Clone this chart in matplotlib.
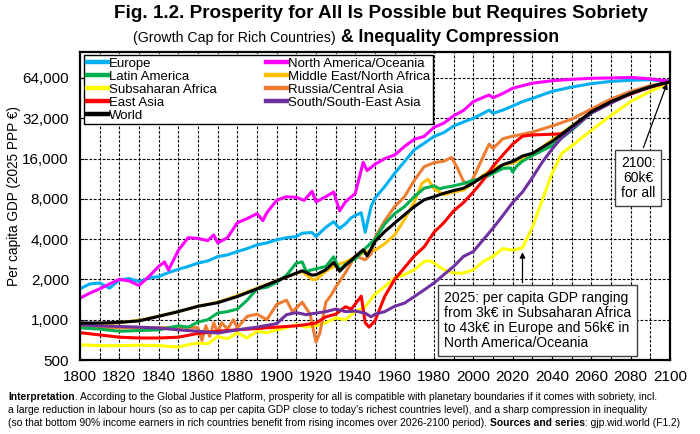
import matplotlib
matplotlib.use('Agg')
import matplotlib.pyplot as plt
from matplotlib.ticker import FixedLocator, MultipleLocator, FuncFormatter

plt.rcParams['font.family'] = ['Liberation Sans', 'DejaVu Sans']

# per capita GDP (2025 PPP EUR)
europe_years = [1800, 1805, 1810, 1815, 1820, 1825, 1830, 1835, 1840, 1845, 1850, 1855, 1860, 1865, 1870,
                1875, 1880, 1885, 1890, 1895, 1900, 1905, 1910, 1913, 1918, 1920, 1925, 1929, 1932, 1935,
                1938, 1943, 1945, 1948, 1950, 1955, 1960, 1965, 1970, 1975, 1980, 1985, 1990, 1995, 2000,
                2005, 2008, 2010, 2015, 2020, 2025, 2030, 2040, 2050, 2060, 2070, 2080, 2090, 2100]
europe = [1700, 1850, 1880, 1720, 1980, 2030, 1930, 2050, 2100, 2250, 2380, 2500, 2650, 2750, 2960,
          3050, 3230, 3400, 3620, 3750, 3950, 4100, 4180, 4430, 4480, 4180, 4900, 5400, 4800, 5200,
          5800, 6300, 4500, 7000, 8100, 9900, 12400, 15200, 18600, 20800, 23400, 25000, 28000, 30000, 32000,
          34800, 36800, 34800, 36800, 39500, 42600, 45000, 50800, 54700, 58000, 60300, 61500, 62000, 60500]

na_years = [1800, 1805, 1810, 1815, 1820, 1825, 1830, 1835, 1840, 1843, 1845, 1850, 1855, 1860, 1865,
            1868, 1870, 1875, 1880, 1885, 1890, 1893, 1895, 1900, 1905, 1910, 1914, 1918, 1920, 1925,
            1929, 1932, 1935, 1940, 1944, 1946, 1950, 1955, 1960, 1965, 1970, 1975, 1980, 1985, 1990,
            1995, 2000, 2005, 2008, 2010, 2015, 2020, 2025, 2030, 2040, 2050, 2060, 2070, 2080, 2090, 2100]
north_america = [1450, 1580, 1700, 1850, 2000, 1950, 1800, 2100, 2500, 2700, 2350, 3300, 4100, 4050, 3900,
                 4300, 3750, 4100, 5300, 5700, 6200, 5500, 6300, 7800, 8300, 8200, 7800, 9100, 7600, 8300,
                 9000, 6500, 7600, 8800, 15000, 13000, 14500, 16000, 17000, 19700, 22300, 23400, 27400, 29400, 33400,
                 36600, 42600, 45800, 47700, 45500, 49000, 53600, 56000, 58500, 61000, 62500, 63600, 64000, 64500, 63000, 60500]

latam_years = [1800, 1810, 1820, 1830, 1840, 1850, 1855, 1860, 1865, 1870, 1875, 1880, 1885, 1890, 1895,
               1900, 1905, 1910, 1913, 1915, 1920, 1925, 1929, 1932, 1935, 1940, 1945, 1950, 1955, 1960,
               1965, 1970, 1975, 1980, 1983, 1985, 1990, 1995, 2000, 2005, 2010, 2015, 2019, 2020, 2022,
               2025, 2030, 2040, 2050, 2060, 2070, 2080, 2090, 2100]
latin_america = [870, 850, 820, 830, 840, 900, 880, 960, 1000, 1120, 1150, 1200, 1400, 1700, 1750,
                 1900, 2150, 2650, 2700, 2300, 2400, 2500, 2950, 2350, 2600, 2850, 3400, 4000, 5200, 6200,
                 7000, 8300, 9600, 10000, 9500, 9700, 10000, 10400, 11000, 11400, 12400, 13500, 13600, 12700, 14000,
                 15300, 16800, 20000, 26000, 35000, 42000, 49000, 55000, 60000]

mena_years = [1800, 1820, 1830, 1840, 1850, 1860, 1870, 1880, 1890, 1900, 1910, 1913, 1918, 1920, 1925,
              1930, 1935, 1940, 1945, 1950, 1955, 1960, 1965, 1970, 1974, 1977, 1980, 1985, 1990, 1995,
              2000, 2005, 2010, 2015, 2020, 2025, 2030, 2040, 2050, 2060, 2070, 2080, 2090, 2100]
mena = [900, 950, 990, 1060, 1150, 1260, 1350, 1510, 1720, 1960, 2220, 2280, 2000, 2000, 2300,
        2550, 2700, 2950, 3200, 3300, 3700, 4300, 5600, 7600, 10500, 11200, 9500, 8600, 9000, 9300,
        10500, 12000, 13500, 14300, 14800, 15800, 17200, 22000, 28000, 35500, 42500, 49000, 55000, 60000]

ssa_years = [1800, 1810, 1820, 1830, 1840, 1850, 1855, 1860, 1865, 1870, 1875, 1880, 1885, 1890, 1895,
             1900, 1905, 1910, 1915, 1920, 1925, 1930, 1935, 1940, 1945, 1950, 1955, 1960, 1965, 1970,
             1975, 1978, 1980, 1985, 1990, 1995, 2000, 2005, 2010, 2015, 2020, 2025, 2030, 2035, 2040,
             2045, 2050, 2060, 2070, 2080, 2090, 2100]
subsaharan = [650, 640, 640, 645, 640, 625, 650, 670, 660, 750, 720, 800, 730, 820, 800,
              840, 870, 920, 880, 900, 950, 1030, 1000, 1150, 1250, 1550, 1770, 2050, 2170, 2360,
              2720, 2750, 2650, 2360, 2230, 2230, 2360, 2720, 2970, 3400, 3300, 3450, 4900, 7800, 12400,
              17500, 19900, 26000, 33600, 42600, 50800, 59000]

russia_years = [1800, 1820, 1840, 1855, 1860, 1862, 1864, 1866, 1868, 1870, 1872, 1875, 1878, 1880, 1885,
                1890, 1895, 1900, 1905, 1908, 1913, 1917, 1920, 1922, 1925, 1928, 1930, 1935, 1940, 1945,
                1948, 1950, 1955, 1960, 1965, 1970, 1975, 1980, 1985, 1989, 1992, 1995, 1998, 2000, 2005,
                2008, 2010, 2015, 2020, 2025, 2030, 2040, 2050, 2060, 2070, 2080, 2090, 2100]
russia = [880, 870, 870, 880, 870, 700, 900, 750, 950, 800, 950, 850, 1000, 870, 1060,
          1100, 1000, 1300, 1400, 1150, 1350, 1100, 680, 800, 1350, 1550, 1750, 2250, 3000, 2800,
          3100, 4100, 5500, 7000, 8300, 11000, 13900, 14900, 15300, 16300, 13500, 10800, 10200, 11500, 16500,
          20500, 19000, 22500, 23500, 24300, 25200, 28000, 31500, 37500, 44500, 50800, 56000, 60000]

east_years = [1800, 1810, 1820, 1830, 1840, 1850, 1860, 1870, 1880, 1890, 1900, 1910, 1915, 1920, 1925,
              1930, 1935, 1938, 1943, 1945, 1947, 1950, 1955, 1960, 1965, 1970, 1975, 1980, 1985, 1990,
              1995, 2000, 2005, 2010, 2015, 2020, 2025, 2030, 2040, 2045, 2050, 2060, 2070, 2080, 2090, 2100]
east_asia = [800, 770, 740, 730, 730, 740, 790, 820, 840, 860, 880, 900, 920, 945, 1050,
             1100, 1250, 1200, 1500, 950, 880, 980, 1500, 2000, 2450, 3000, 3500, 4500, 5300, 6500,
             7500, 9000, 11000, 14000, 17000, 20500, 23500, 24000, 24300, 24500, 27000, 35500, 42000, 48500, 54500, 60000]

south_years = [1800, 1810, 1820, 1830, 1840, 1850, 1860, 1870, 1880, 1890, 1900, 1905, 1910, 1915, 1920,
               1925, 1930, 1935, 1940, 1945, 1948, 1950, 1955, 1960, 1965, 1970, 1975, 1980, 1985, 1990,
               1995, 2000, 2005, 2010, 2015, 2020, 2025, 2030, 2035, 2040, 2045, 2050, 2060, 2070, 2080, 2090, 2100]
south_asia = [920, 900, 890, 880, 866, 840, 820, 795, 840, 880, 935, 1090, 1130, 1090, 1120,
              1150, 1200, 1150, 1160, 1120, 1050, 1100, 1150, 1260, 1330, 1490, 1670, 1880, 2170, 2500,
              2970, 3230, 3950, 4830, 6000, 7500, 9000, 11500, 15000, 18800, 23000, 26500, 35000, 41500, 49000, 55000, 60000]

world_years = [1800, 1810, 1820, 1830, 1840, 1850, 1860, 1870, 1880, 1890, 1900, 1910, 1913, 1918, 1920,
               1925, 1929, 1932, 1935, 1940, 1944, 1946, 1950, 1955, 1960, 1965, 1970, 1975, 1980, 1985,
               1990, 1995, 2000, 2005, 2010, 2015, 2020, 2025, 2030, 2040, 2050, 2060, 2070, 2080, 2090, 2100]
world = [945, 945, 955, 980, 1060, 1150, 1260, 1340, 1490, 1700, 1950, 2230, 2320, 2150, 2170,
         2360, 2680, 2300, 2550, 2970, 3330, 3000, 3840, 4560, 5270, 6080, 7000, 7860, 8300, 8800,
         9220, 9600, 10500, 11800, 12800, 14400, 15200, 16700, 17500, 21400, 27700, 35800, 42600, 49000, 55000, 60000]

y_ticks = [500, 1000, 2000, 4000, 8000, 16000, 32000, 64000]
x_grid = list(range(1810, 2100, 10))

fig = plt.figure(figsize=(7, 4.34), dpi=100)
ax = fig.add_axes([80 / 700, 1 - 360 / 434, 590 / 700, 308 / 434])

# dashed grid
dash = (0, (2.5, 1.5))
for gx in x_grid:
    ax.axvline(gx, color='black', ls=dash, lw=0.8, zorder=0.5)
for gy in y_ticks[1:]:
    ax.axhline(gy, color='black', ls=dash, lw=0.8, zorder=0.5)

lw = 2.2
series = [
    ('Subsaharan Africa', ssa_years, subsaharan, '#FFFF00'),
    ('Middle East/North Africa', mena_years, mena, '#FFC000'),
    ('Russia/Central Asia', russia_years, russia, '#ED7D31'),
    ('Latin America', latam_years, latin_america, '#00B050'),
    ('East Asia', east_years, east_asia, '#FF0000'),
    ('South/South-East Asia', south_years, south_asia, '#7030A0'),
    ('Europe', europe_years, europe, '#00B0F0'),
    ('North America/Oceania', na_years, north_america, '#FF00FF'),
    ('World', world_years, world, '#000000'),
]
lines = {}
for name, xs, ys, col in series:
    lines[name], = ax.plot(xs, ys, color=col, lw=lw, solid_joinstyle='round', label=name, zorder=2)

ax.set_yscale('log', base=2)
ax.set_ylim(500, 100000)
ax.set_xlim(1800, 2100)
ax.yaxis.set_major_locator(FixedLocator(y_ticks))
ax.yaxis.set_minor_locator(FixedLocator([]))
ax.yaxis.set_major_formatter(FuncFormatter(lambda v, p: f'{int(v):,}'))
ax.xaxis.set_major_locator(MultipleLocator(20))
ax.xaxis.set_minor_locator(MultipleLocator(10))

for sp in ax.spines.values():
    sp.set_linewidth(1.6)
ax.tick_params(axis='both', which='both', direction='in', length=3, labelsize=11)
ax.tick_params(axis='y', pad=8)
ax.tick_params(axis='x', pad=7)

ax.set_ylabel('Per capita GDP (2025 PPP €)', fontsize=9.8)
ax.yaxis.set_label_coords(-0.1, 0.532)

order = ['Europe', 'Latin America', 'Subsaharan Africa', 'East Asia', 'World',
         'North America/Oceania', 'Middle East/North Africa', 'Russia/Central Asia', 'South/South-East Asia']
leg = ax.legend([lines[n] for n in order], order, ncol=2, loc='upper left', mode='expand',
                bbox_to_anchor=(0.0068, 0.75, 0.5915, 0.24), borderaxespad=0,
                fontsize=9.5, labelspacing=0.05, borderpad=0.2, handletextpad=0.1,
                handlelength=1.6, columnspacing=0.5, fancybox=False, framealpha=1,
                edgecolor='black')
leg.get_frame().set_linewidth(1.0)
leg.set_zorder(5)
for h in leg.legend_handles:
    h.set_linewidth(3.2)

# annotations
box = dict(boxstyle='square,pad=0.4', fc='white', ec='#404040', lw=1)
ax.text(0.946, 0.591, '2100:\n60k€\nfor all', transform=ax.transAxes, ha='center', va='center',
        fontsize=10, linespacing=1.1, bbox=box, zorder=6)
ax.annotate('', xy=(2099, 61000), xytext=(2086, 18500),
            arrowprops=dict(arrowstyle='-|>', color='black', lw=0.9, mutation_scale=8), zorder=6)
ax.text(0.617, 0.128, '2025: per capita GDP ranging\nfrom 3k€ in Subsaharan Africa\n'
        'to 43k€ in Europe and 56k€ in\nNorth America/Oceania',
        transform=ax.transAxes, ha='left', va='center', fontsize=10, linespacing=1.1, bbox=box, zorder=6)
ax.annotate('', xy=(2025, 3350), xytext=(2025, 1800),
            arrowprops=dict(arrowstyle='-|>', color='black', lw=0.9, mutation_scale=8), zorder=6)

# titles
fig.text(381 / 700, 1 - 13 / 434, 'Fig. 1.2. Prosperity for All Is Possible but Requires Sobriety',
         ha='center', va='center', fontsize=13.6, weight='bold')
fig.text(336 / 700, 1 - 38 / 434, '(Growth Cap for Rich Countries)', ha='right', va='center',
         fontsize=10.2)
fig.text(341 / 700, 1 - 38 / 434, '& Inequality Compression', ha='left', va='center',
         fontsize=12.7, weight='bold')


def text_pieces(x_px, y_px, pieces, size):
    renderer = fig.canvas.get_renderer()
    x = x_px
    for s, w in pieces:
        t = fig.text(x / 700, 1 - y_px / 434, s, ha='left', va='center', fontsize=size, weight=w)
        x = t.get_window_extent(renderer).x1


fs = 7.35
text_pieces(8, 397, [('Interpretation', 'bold'),
                     ('. According to the Global Justice Platform, prosperity for all is compatible with '
                      'planetary boundaries if it comes with sobriety, incl.', 'normal')], fs)
text_pieces(8, 410, [('a large reduction in labour hours (so as to cap per capita GDP close to today\'s richest '
                      'countries level), and a sharp compression in inequality', 'normal')], fs)
text_pieces(8, 423, [('(so that bottom 90% income earners in rich countries benefit from rising incomes over '
                      '2026-2100 period). ', 'normal'),
                     ('Sources and series', 'bold'), (': gjp.wid.world (F1.2)', 'normal')], fs)

fig.savefig('out.png', dpi=100)
